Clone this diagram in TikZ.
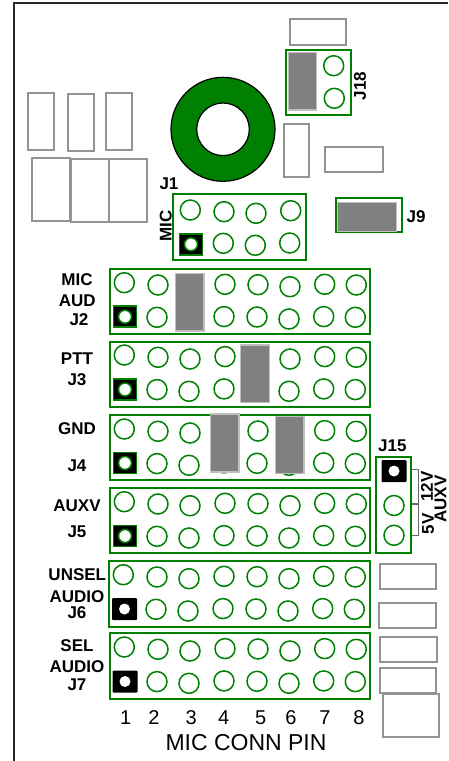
\documentclass[tikz,border=0pt]{standalone}
\usepackage{fontspec}
\setmainfont{Liberation Sans}
\usepackage{tikz}
\usetikzlibrary{positioning}
\definecolor{PadGreen}{RGB}{0,128,0}
\tikzset{
  frame/.style={line width=1.7pt, draw=PadGreen},
  pad/.style={line width=1.5pt, draw=PadGreen},
  outline/.style={line width=1.7pt, draw=gray!85},
  shunt/.style={line width=1.5pt, draw=gray!50, fill=gray},
  tag/.style={font=\bfseries\fontsize{17}{18}\selectfont, inner sep=0pt},
  pinno/.style={font=\fontsize{20}{22}\selectfont, inner sep=0pt}
}
% one connector row: first pad at (#1,#2)
\newcommand{\padrow}[2]{
  \foreach \xP/\yP in {0/0, 33.7/2.3, 65.7/4, 100.7/1.6, 133.7/2, 165.7/4, 200.4/1.6, 232/2.3} {
    \draw[pad] (#1+\xP, #2+\yP) circle (10);
    \ifdim \xP pt>0pt
      \draw[pad] (#1+\xP-1, #2+\yP+32.3) circle (10);
    \fi
  }
}
\newcommand{\pinone}[2]{
  \draw[line width=1.5pt, draw=PadGreen, fill=black] (#1-11.5, #2-10.5) rectangle (#1+11.5, #2+10.5);
  \draw[line width=1.5pt, draw=PadGreen, fill=white] (#1, #2) circle (6.5);
}
\newcommand{\pinblack}[2]{
  \fill[black, rounded corners=1pt] (#1-12.5, #2-11) rectangle (#1+12.5, #2+11);
  \fill[white] (#1, #2) circle (5.5);
}

\begin{document}
\begin{tikzpicture}[x=1pt, y=-1pt]
\useasboundingbox (0,0) rectangle (448,761);

% The outer board edge
\draw[line width=1.7pt, black!85] (13.7,761) -- (13.7,3.3) -- (448,3.3);

% Empty outlines
\foreach \xA/\yA/\xB/\yB in {
  290/19/346.3/45.3, 28.3/93/54/150, 68/94.3/93.7/151, 106.3/93/132/150,
  31.7/158/70/220.7, 71.3/159.3/108.7/221.7, 108.7/159.3/146.7/221.7,
  284/123.7/308.7/177, 325/147/383/172,
  380/563.7/436.3/588.7, 378.7/602.7/435.7/627.7, 380.3/637/437.3/662.3,
  379.7/667.7/436.3/692.7, 383.3/694/439/736.7} {
  \draw[outline] (\xA,\yA) rectangle (\xB,\yB);
}
% J15 side outlines
\draw[line width=1pt, draw=gray!80!black] (411,469.3) -- (418.3,469.3) -- (418.3,503) -- (411,503);
\draw[line width=1pt, draw=gray!80!black] (411,504.5) -- (418.3,504.5) -- (418.3,535) -- (411,535);

% Toroid
\draw[line width=1.2pt, fill=PadGreen] (223,129.3) circle (52);
\draw[line width=1.2pt, fill=white] (223,129.3) circle (26.3);

% Frames of the connectors
\foreach \xA/\yA/\xB/\yB in {
  285.7/50/350.7/115.3, 173/194/305.7/260, 336/198/402.3/232.3,
  110/269/370/334, 110/341.7/370/406.7, 110/415.3/370/480.3, 110/487.7/370/552.7,
  109/561.3/370/626.7, 110/633.3/370/699, 376/456.7/410.7/552.7} {
  \draw[frame] (\xA,\yA) rectangle (\xB,\yB);
}

% Pads of J2 to J7
\padrow{124.3}{282.7}
\padrow{124.3}{355}
\padrow{124.3}{429}
\padrow{124.3}{501.7}
\padrow{123.3}{574.7}
\padrow{124.3}{647}

% Pin 1 marks
\pinone{125}{316.7}
\pinone{125}{389.5}
\pinone{125}{463}
\pinone{125}{536}
\pinblack{124.5}{609}
\pinblack{125}{681.5}
\pinone{191}{244.3}
\pinblack{394}{471}

% Pads of J1, J18 and J15
\foreach \xP/\yP in {190.3/210, 224/211.7, 256/213.3, 290.7/210.7, 223.3/243.3, 255.3/245.3, 289.7/243,
  333.7/65.7, 334.3/98.3, 394/505.5, 394/535.3} {
  \draw[pad] (\xP,\yP) circle (10);
}

% Shunts
\foreach \xA/\yA/\xB/\yB in {
  288.7/52.3/316.7/110, 337.3/202.7/396.7/231.7, 175.7/273.7/204/331,
  240.7/345/269.3/402.7, 210.7/414/239/472, 275.3/416.7/304/473.7} {
  \draw[shunt] (\xA,\yA) rectangle (\xB,\yB);
}

% Labels
\node[tag] (micA) at (77,280) {MIC};
\node[tag] (audA) at (77.3,301) {AUD};
\node[tag] (jTwo) at (79,320) {J2};
\node[tag] (ptt) at (77,359) {PTT};
\node[tag] (jThree) at (77,380) {J3};
\node[tag] (gnd) at (77,429) {GND};
\node[tag] (jFour) at (77,465.7) {J4};
\node[tag] (auxv) at (77,506) {AUXV};
\node[tag] (jFive) at (77,532) {J5};
\node[tag] (unsel) at (77.3,575) {UNSEL};
\node[tag] (audB) at (77,596.7) {AUDIO};
\node[tag] (jSix) at (77,613) {J6};
\node[tag] (sel) at (77,646) {SEL};
\node[tag] (audC) at (77,666.7) {AUDIO};
\node[tag] (jSeven) at (77,685) {J7};
\node[tag] (jOne) at (169,184) {J1};
\node[tag, rotate=90] (micB) at (165.7,226) {MIC};
\node[tag, rotate=90] (jEighteen) at (360,86) {J18};
\node[tag] (jNine) at (416,216.7) {J9};
\node[tag] (jFifteen) at (392.3,446) {J15};
\node[tag, rotate=90] (twelveV) at (427,486.7) {12V};
\node[tag, rotate=90] (fiveV) at (428,524) {5V};
\node[tag, rotate=90] (auxvB) at (440.5,499) {AUXV};

% Pin numbers
\foreach \xP/\pinN in {125.7/1, 154/2, 191.3/3, 223.7/4, 260.7/5, 291/6, 325/7, 359/8} {
  \node[pinno] (no\pinN) at (\xP,717.7) {\pinN};
}
\node[font=\fontsize{23}{24}\selectfont, inner sep=0pt] (connpin) at (246,742.7) {MIC CONN PIN};

\end{tikzpicture}
\end{document}
